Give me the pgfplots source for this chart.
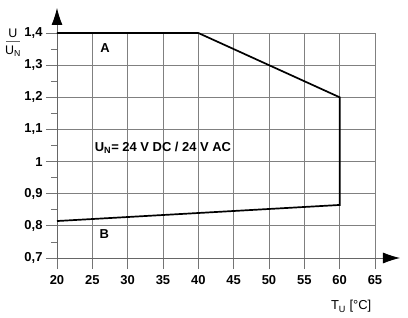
\documentclass[border=0pt]{standalone}
\usepackage{pgfplots}
\pgfplotsset{compat=1.18}
\usepackage{fontspec}
\setmainfont{Liberation Sans}
\usetikzlibrary{arrows.meta}
\begin{document}
\begin{tikzpicture}
\path[use as bounding box] (-57bp,-60bp) rectangle (351bp,258bp);
\begin{axis}[
  at={(0,0)}, anchor=south west,
  scale only axis, width=318bp, height=225bp,
  xmin=20, xmax=65, ymin=0.7, ymax=1.4,
  axis line style={draw=none},
  xtick pos=lower, ytick pos=left,
  xtick={20,25,30,35,40,45,50,55,60,65},
  xticklabels={20,25,30,35,40,45,50,55,60,65},
  ytick={0.7,0.8,0.9,1.0,1.1,1.2,1.3,1.4},
  yticklabels={{0,7},{0,8},{0,9},{1},{1,1},{1,2},{1,3},{1,4}},
  minor ytick={0.75,0.85,0.95,1.05,1.15,1.25,1.35},
  tick align=outside,
  major tick length=11bp, minor tick length=6bp,
  tick style={black!55, line width=0.8bp},
  grid=major,
  major grid style={black!50, line width=0.8bp},
  ticklabel style={font=\fontsize{13}{15}\selectfont\bfseries},
  xticklabel style={yshift=-3bp},
  clip=false,
]
\draw[black!60, line width=0.8bp, -{Latex[length=17bp,width=11bp,color=black]}] (rel axis cs:0,0) -- ([xshift=25bp]rel axis cs:1,0);
\draw[black!60, line width=0.8bp, -{Latex[length=17bp,width=11bp,color=black]}] (rel axis cs:0,0) -- ([yshift=25bp]rel axis cs:0,1);
\addplot[black, line width=1.7bp] coordinates {(20,1.4) (40,1.4) (60,1.2) (60,0.865) (20,0.815)};
\node[font=\fontsize{13}{15}\selectfont\bfseries] at (axis cs:26.8,1.354) {A};
\node[font=\fontsize{13}{15}\selectfont\bfseries] at (axis cs:26.7,0.775) {B};
\node[font=\fontsize{13}{15}\selectfont\bfseries] at (axis cs:35,1.043) {U\textsubscript{N}= 24 V DC / 24 V AC};
\node[font=\fontsize{13}{15}\selectfont] at ([yshift=-2bp]rel axis cs:0.925,-0.207) {T\textsubscript{U} [°C]};
\node[font=\fontsize{12.5}{14}\selectfont, anchor=base, inner sep=0pt] at (rel axis cs:-0.1384,0.979) {U};
\node[font=\fontsize{12.5}{14}\selectfont, anchor=base, inner sep=0pt] at (rel axis cs:-0.1384,0.9036) {U\textsubscript{N}};
\draw[black!60, line width=0.8bp] (rel axis cs:-0.160,0.9627) -- (rel axis cs:-0.116,0.9627);
\end{axis}
\end{tikzpicture}
\end{document}
